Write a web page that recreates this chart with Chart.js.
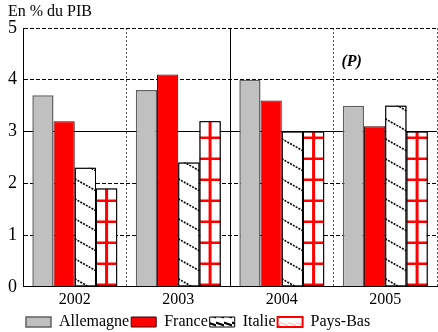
<!DOCTYPE html>
<html>
<head>
<meta charset="utf-8">
<script src="https://cdn.jsdelivr.net/npm/chart.js@4/dist/chart.umd.min.js"></script>
<style>
  html, body { margin: 0; padding: 0; background: #fff; }
  #wrap { width: 438px; height: 332px; }
</style>
</head>
<body>
<div id="wrap"><canvas id="c"></canvas></div>
<script>
// Dépenses publiques (% du PIB) — barres groupées par année, 4 pays.
const YEARS     = ['2002', '2003', '2004', '2005'];
const ALLEMAGNE = [3.7, 3.8, 4.0, 3.5];
const FRANCE    = [3.2, 4.1, 3.6, 3.1];
const ITALIE    = [2.3, 2.4, 3.0, 3.5];
const PAYS_BAS  = [1.9, 3.2, 3.0, 3.0];
const Y_MIN = 0, Y_MAX = 5, Y_STEP = 1;
const TITLE = 'En % du PIB';
const NOTE = '(P)';

const SERIF = '"Liberation Serif", "Times New Roman", serif';

function makePattern(bg, fg, width) {
  const c = document.createElement('canvas');
  c.width = 8; c.height = 8;
  const g = c.getContext('2d');
  g.fillStyle = bg; g.fillRect(0, 0, 8, 8);
  g.strokeStyle = fg; g.lineWidth = width;
  g.beginPath(); g.moveTo(-2, 2); g.lineTo(10, 6); g.stroke();
  return g.createPattern(c, 'repeat');
}

// hachures Italie / quadrillage Pays-Bas, clippés sur chaque barre
const hatchPlugin = {
  id: 'hatch',
  afterDatasetDraw(chart, args) {
    const i = args.index;
    if (i !== 2 && i !== 3) return;
    const ctx = chart.ctx;
    const area = chart.chartArea;
    args.meta.data.forEach(bar => {
      const l = bar.x - bar.width / 2, r = bar.x + bar.width / 2;
      const t = bar.y, b = bar.base;
      ctx.save();
      ctx.beginPath(); ctx.rect(l, t, r - l, b - t); ctx.clip();
      if (i === 2) {
        ctx.strokeStyle = '#000'; ctx.lineWidth = 1.6; ctx.setLineDash([2, 1.2]);
        for (let y0 = area.bottom + 24; y0 > t - 24; y0 -= 20) {
          ctx.beginPath(); ctx.moveTo(l, y0 - 12); ctx.lineTo(r, y0); ctx.stroke();
        }
      } else {
        ctx.strokeStyle = '#ff0000'; ctx.lineWidth = 3;
        ctx.beginPath(); ctx.moveTo(bar.x, t); ctx.lineTo(bar.x, b); ctx.stroke();
        ctx.lineWidth = 2.5;
        for (let y = area.bottom - 2; y > t + 2; y -= 21) {
          ctx.beginPath(); ctx.moveTo(l, y); ctx.lineTo(r, y); ctx.stroke();
        }
      }
      ctx.restore();
      ctx.save();
      ctx.strokeStyle = '#000'; ctx.lineWidth = 1;
      ctx.strokeRect(l + 0.5, t + 0.5, r - l - 1, b - t - 1);
      ctx.restore();
    });
  }
};

// titre d'unité en haut à gauche + mention (P) sur 2005
const textPlugin = {
  id: 'texts',
  afterLayout(chart) {
    chart.legend.left = chart.chartArea.left + 1;
  },
  afterDraw(chart) {
    const { ctx, scales: { x, y } } = chart;
    ctx.save();
    ctx.fillStyle = '#000';
    ctx.textAlign = 'left'; ctx.textBaseline = 'middle';
    ctx.font = '16px ' + SERIF;
    ctx.fillText(TITLE, 8, 12);
    const bx = (x.getPixelForValue(2) + x.getPixelForValue(3)) / 2;
    ctx.font = 'italic bold 16px ' + SERIF;
    ctx.fillText(NOTE, bx + 8, y.getPixelForValue(4.35));
    ctx.restore();
  }
};

const italiePattern = makePattern('#fff', '#000', 2);
const paysBasPattern = makePattern('#fff', '#ffb0b0', 1);

new Chart(document.getElementById('c').getContext('2d'), {
  type: 'bar',
  data: {
    labels: YEARS,
    datasets: [
      { label: 'Allemagne', data: ALLEMAGNE, backgroundColor: '#c0c0c0', borderColor: '#606060', borderWidth: 1.5 },
      { label: 'France',    data: FRANCE,    backgroundColor: '#ff0000', borderColor: '#400000', borderWidth: 1 },
      { label: 'Italie',    data: ITALIE,    backgroundColor: '#ffffff', borderColor: '#000000', borderWidth: 1 },
      { label: 'Pays-Bas',  data: PAYS_BAS,  backgroundColor: '#ffffff', borderColor: '#000000', borderWidth: 1 },
    ],
  },
  options: {
    responsive: true, maintainAspectRatio: false, animation: false,
    layout: { padding: { left: 2, right: 1, top: 28, bottom: -8 } },
    datasets: { bar: { categoryPercentage: 0.82, barPercentage: 1 } },
    plugins: {
      title: { display: false },
      legend: {
        position: 'bottom', align: 'start',
        labels: {
          color: '#000', font: { family: SERIF, size: 16 },
          boxWidth: 25, boxHeight: 10, padding: 2,
          generateLabels: chart => {
            const items = Chart.defaults.plugins.legend.labels.generateLabels(chart);
            items[2].fillStyle = italiePattern; items[2].strokeStyle = '#000';
            items[3].fillStyle = paysBasPattern; items[3].strokeStyle = '#ff0000'; items[3].lineWidth = 2;
            return items;
          },
        },
      },
      tooltip: { enabled: false },
    },
    scales: {
      x: {
        grid: {
          offset: true, drawTicks: false, lineWidth: 1,
          color: ctx => ctx.index === 2 ? '#000' : '#555',
        },
        border: {
          display: true, color: '#000', width: 1,
          dash: ctx => ctx.index === 2 ? [] : [2, 2],
        },
        ticks: { color: '#000', font: { family: SERIF, size: 16 }, padding: 3 },
      },
      y: {
        min: Y_MIN, max: Y_MAX,
        grid: { drawTicks: false, color: '#000', lineWidth: 1 },
        border: {
          display: true, color: '#000', width: 1,
          dash: ctx => (ctx.tick && (ctx.tick.value === 3 || ctx.tick.value === 0)) ? [] : [4, 2],
        },
        ticks: { stepSize: Y_STEP, color: '#000', font: { family: SERIF, size: 18 }, padding: 6 },
      },
    },
  },
  plugins: [hatchPlugin, textPlugin],
});
</script>
</body>
</html>
